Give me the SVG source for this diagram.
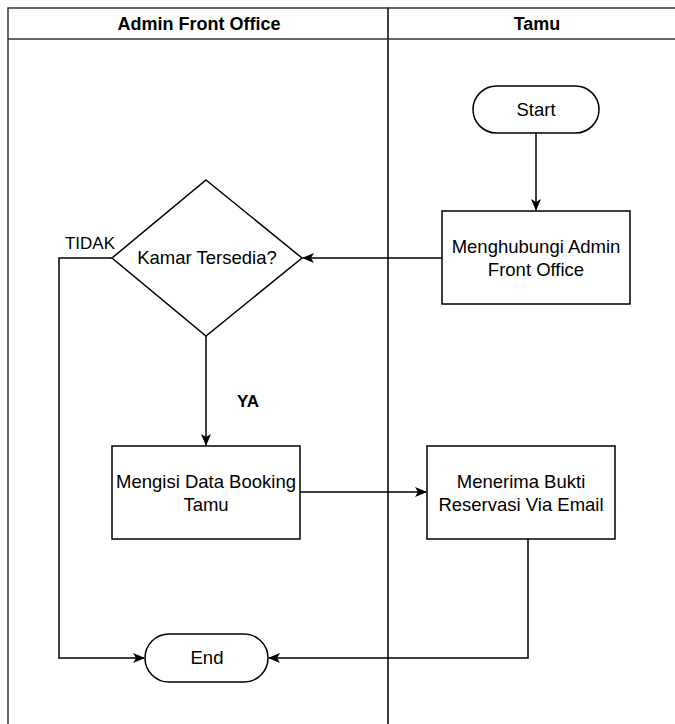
<svg xmlns="http://www.w3.org/2000/svg" width="675" height="724" viewBox="0 0 675 724">
  <style>
    .lane { fill: none; stroke: #333333; stroke-width: 1.5; }
    .shape { fill: #ffffff; stroke: #000000; stroke-width: 1.5; }
    .edge { fill: none; stroke: #000000; stroke-width: 1.5; }
    .title { font-family: "Liberation Sans", Arial, sans-serif; font-size: 18px; font-weight: bold; text-anchor: middle; fill: #000000; }
    .label { font-family: "Liberation Sans", Arial, sans-serif; font-size: 18.5px; text-anchor: middle; fill: #000000; }
    .elabel { font-family: "Liberation Sans", Arial, sans-serif; font-size: 17px; text-anchor: middle; fill: #000000; }
  </style>
  <defs>
    <marker id="arrow" viewBox="0 0 12 10" refX="11" refY="5" markerWidth="12" markerHeight="10" markerUnits="userSpaceOnUse" orient="auto">
      <path d="M0,0 L12,5 L0,10 L3,5 Z" fill="#000000"/>
    </marker>
  </defs>
  <rect width="675" height="724" fill="#ffffff"/>

  <!-- swimlanes -->
  <g id="lanes">
    <rect class="lane" x="8" y="8" width="380" height="730"/>
    <rect class="lane" x="388" y="8" width="298" height="730"/>
    <line class="lane" x1="8" y1="39" x2="686" y2="39"/>
    <text class="title" x="199" y="30">Admin Front Office</text>
    <text class="title" x="537" y="30">Tamu</text>
  </g>

  <!-- connectors -->
  <g id="connectors">
    <path class="edge" d="M536,133 L536,210" marker-end="url(#arrow)"/>
    <path class="edge" d="M442,258 L303,258" marker-end="url(#arrow)"/>
    <path class="edge" d="M206,336 L206,445" marker-end="url(#arrow)"/>
    <path class="edge" d="M300,492 L426,492" marker-end="url(#arrow)"/>
    <path class="edge" d="M112,258 L59,258 L59,658 L144,658" marker-end="url(#arrow)"/>
    <path class="edge" d="M528,539 L528,658 L269,658" marker-end="url(#arrow)"/>
    <text class="elabel" x="90" y="249">TIDAK</text>
    <text class="elabel" x="248" y="407" font-weight="bold">YA</text>
  </g>

  <g id="start">
    <rect class="shape" x="473" y="86" width="126" height="47" rx="23.5"/>
    <text class="label" x="536" y="116">Start</text>
  </g>

  <g id="menghubungi">
    <rect class="shape" x="442" y="211" width="188" height="93"/>
    <text class="label" x="536" y="253">Menghubungi Admin</text>
    <text class="label" x="536" y="276">Front Office</text>
  </g>

  <g id="kamar">
    <polygon class="shape" points="206,180 302,258 206,336 112,258"/>
    <text class="label" x="207" y="264">Kamar Tersedia?</text>
  </g>

  <g id="mengisi">
    <rect class="shape" x="112" y="446" width="188" height="93"/>
    <text class="label" x="206" y="488">Mengisi Data Booking</text>
    <text class="label" x="206" y="511">Tamu</text>
  </g>

  <g id="menerima">
    <rect class="shape" x="427" y="446" width="188" height="93"/>
    <text class="label" x="521" y="488">Menerima Bukti</text>
    <text class="label" x="521" y="511">Reservasi Via Email</text>
  </g>

  <g id="end">
    <rect class="shape" x="145" y="634" width="123" height="48" rx="24"/>
    <text class="label" x="207" y="664">End</text>
  </g>
</svg>
